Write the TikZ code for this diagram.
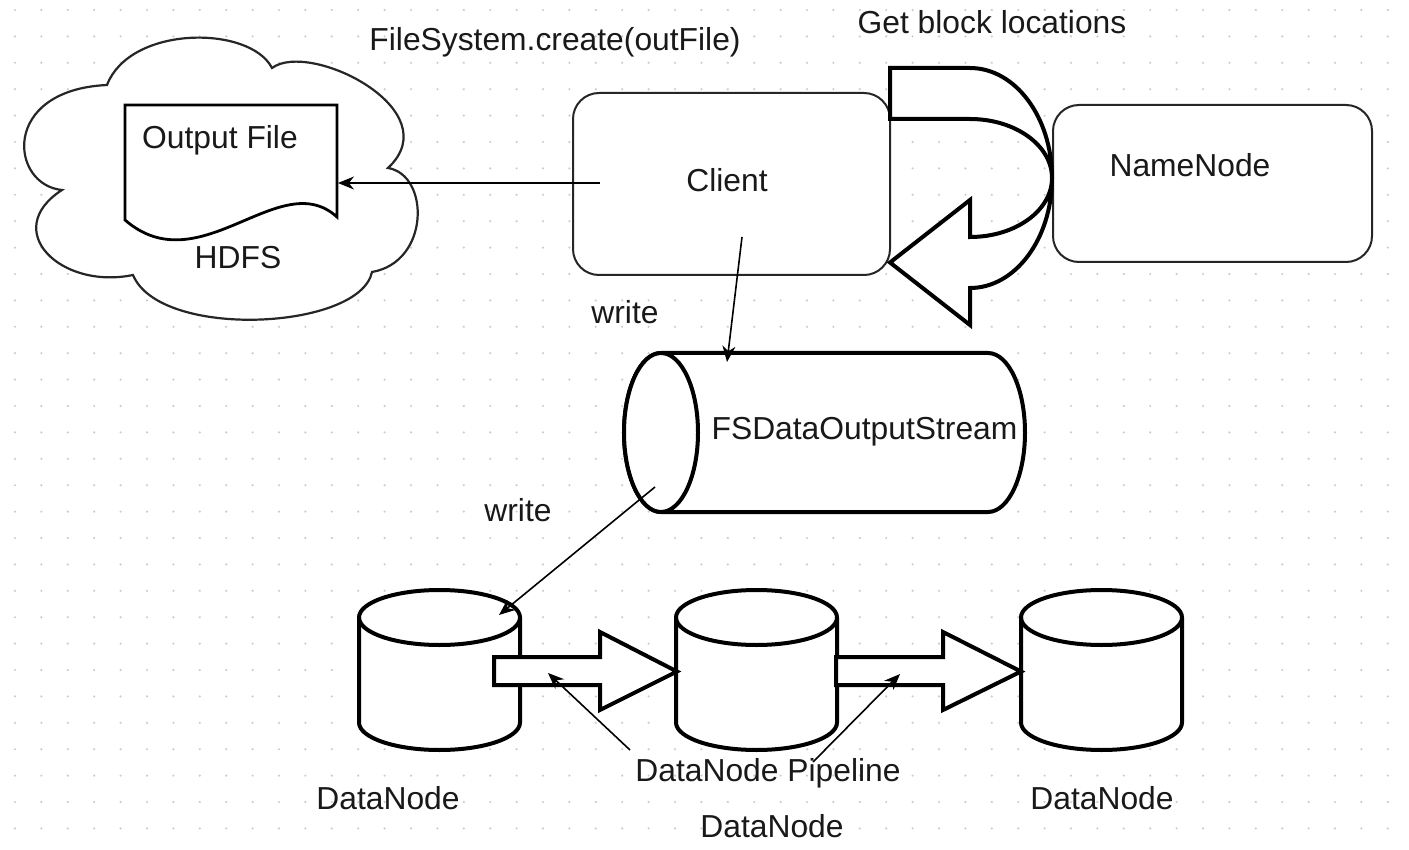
\documentclass[tikz,border=0pt]{standalone}
\usepackage{fontspec}
\setmainfont{Liberation Sans}
\usetikzlibrary{arrows.meta}
\definecolor{dotc}{gray}{0.8}
\tikzset{
  thickline/.style={line width=2pt, draw=black, fill=white, line join=miter},
  docline/.style={line width=1.4pt, draw=black, fill=white},
  cloudline/.style={line width=1.1pt, draw=black!85, fill=white},
  boxline/.style={line width=1pt, draw=black!85, fill=white, rounded corners=13pt, inner sep=0pt},
  ptr/.style={line width=0.8pt, draw=black, -{Stealth[length=8pt,width=6.5pt]}},
  lbl/.style={inner sep=0pt, text=black!90, font=\fontsize{15.9pt}{19pt}\selectfont},
}
\begin{document}
\begin{tikzpicture}[x=0.5pt,y=-0.5pt]
\useasboundingbox[fill=white] (0,0) rectangle (1409,850);
% dotted grid
\foreach \i in {0,...,52}{
  \foreach \j in {0,...,31}{
    \fill[dotc] (15+26.4*\i,10+26.4*\j) circle[radius=0.6pt];
  }
}
% HDFS cloud
\draw[cloudline] (107,85) .. controls (130,25) and (250,25) .. (272,68)
  .. controls (310,40) and (450,110) .. (388,168)
  .. controls (430,175) and (430,262) .. (372,272)
  .. controls (360,330) and (160,340) .. (133,275)
  .. controls (60,290) and (0,230) .. (62,190)
  .. controls (10,185) and (0,90) .. (107,85) -- cycle;
% Output file document
\draw[docline] (125,105) -- (337,105) -- (337,217)
  .. controls (280,165) and (200,285) .. (125,220) -- cycle;
\node[lbl] (outlbl) at (220,140) {Output File};
\node[lbl] (hdfs) at (238,258) {HDFS};
% Client and NameNode
\node[boxline, minimum width=158.5pt, minimum height=91pt] (client) at (731.5,184) {};
\node[lbl] (clientlbl) at (727,180) {Client};
\node[boxline, minimum width=159.5pt, minimum height=78.5pt] (namenode) at (1212.5,183.5) {};
\node[lbl] (nnlbl) at (1190,165) {NameNode};
% U-turn arrow
\draw[thickline] (890,68) -- (970,68)
  arc[start angle=-90, end angle=90, x radius=82, y radius=110]
  -- (970,325) -- (890,262.5) -- (970,200) -- (970,237)
  arc[start angle=90, end angle=-90, x radius=82, y radius=59]
  -- (890,119) -- cycle;
% FSDataOutputStream cylinder
\draw[thickline] (661,353) -- (988,353)
  arc[start angle=-90, end angle=90, x radius=37, y radius=79.5]
  -- (661,512)
  arc[start angle=90, end angle=270, x radius=37, y radius=79.5] -- cycle;
\draw[thickline] (661,432.5) ellipse[x radius=37, y radius=79.5];
\node[lbl] (fslbl) at (864.5,432) {FSDataOutputStream};
% DataNode cylinders
\foreach \cx in {439.5,756.5,1101.5}{
  \draw[thickline] (\cx-80.5,617.5) -- (\cx-80.5,722.5)
    arc[start angle=180, end angle=0, x radius=80.5, y radius=27.5]
    -- (\cx+80.5,617.5)
    arc[start angle=0, end angle=-180, x radius=80.5, y radius=27.5] -- cycle;
  \draw[thickline, fill=none] (\cx-80.5,617.5)
    arc[start angle=180, end angle=0, x radius=80.5, y radius=27.5];
}
% pipeline block arrows
\draw[thickline] (494,657) -- (600,657) -- (600,632) -- (677,671.5) -- (600,710) -- (600,685) -- (494,685) -- cycle;
\draw[thickline] (836,657) -- (943,657) -- (943,632) -- (1021,671.5) -- (943,710) -- (943,685) -- (836,685) -- cycle;
% labels
\node[lbl] (fscreate) at (555,42) {FileSystem.create(outFile)};
\node[lbl] (getblk) at (992,22) {Get block locations};
\node[lbl] (write1) at (625,312) {write};
\node[lbl] (write2) at (518,510) {write};
\node[lbl] (dn1lbl) at (388,798) {DataNode};
\node[lbl] (pipelbl) at (768,773) {DataNode Pipeline};
\node[lbl] (dn2lbl) at (772,826) {DataNode};
\node[lbl] (dn3lbl) at (1102,798) {DataNode};
% connectors
\coordinate (cA) at (600,183);
\coordinate (docE) at (338,183);
\coordinate (cB) at (742,237);
\coordinate (fsT) at (727,362);
\coordinate (fsL) at (655,487);
\coordinate (dnT) at (499,615);
\coordinate (p1s) at (630,750);
\coordinate (p1e) at (548,673);
\coordinate (p2s) at (813,762);
\coordinate (p2e) at (900,674);
\draw[ptr] (cA) -- (docE);
\draw[ptr] (cB) -- (fsT);
\draw[ptr] (fsL) -- (dnT);
\draw[ptr] (p1s) -- (p1e);
\draw[ptr] (p2s) -- (p2e);
\end{tikzpicture}
\end{document}
